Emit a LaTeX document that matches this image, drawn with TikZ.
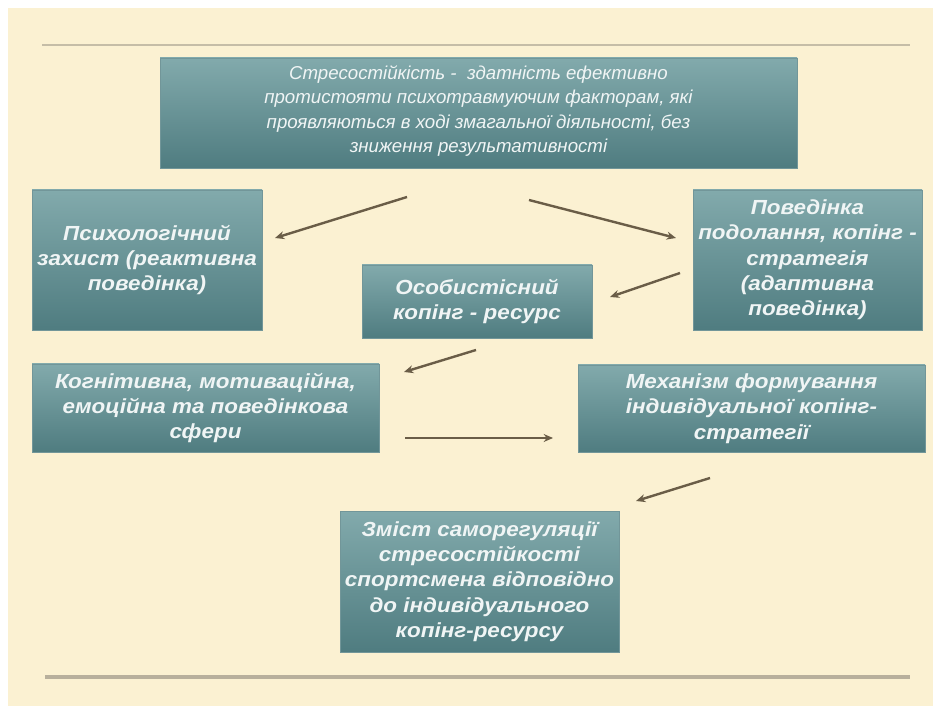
\documentclass[tikz,border=0pt]{standalone}
\usepackage{fontspec}
\setmainfont{Liberation Sans}
\newfontfamily\widefont[FakeStretch=1.1]{Liberation Sans}
\usetikzlibrary{arrows.meta}
\definecolor{cream}{HTML}{FBF1D2}
\definecolor{boxtop}{HTML}{82AAAC}
\definecolor{boxbot}{HTML}{4F7C80}
\definecolor{arrowc}{HTML}{6A5D47}
\definecolor{txt}{HTML}{F0F5F5}
\definecolor{rulec}{HTML}{B8B09C}
\tikzset{
  box/.style={rectangle, top color=boxtop, bottom color=boxbot, draw=boxbot!80!white, line width=0.3pt,
    text=txt, align=center, inner sep=1pt,
    font=\widefont\fontsize{15.3}{19}\selectfont\bfseries\itshape},
  topbox/.style={box, font=\fontsize{14}{18.4}\selectfont\itshape},
  arr/.style={draw=arrowc, line width=1.8pt, -{Stealth[length=7pt,width=6pt]}},
}
\begin{document}
\begin{tikzpicture}[x=0.75pt,y=-0.75pt]
\useasboundingbox (0,0) rectangle (933,706);
\fill[white] (0,0) rectangle (933,706);
\fill[cream] (8,8) rectangle (933,706);
\draw[rulec!80!cream, line width=1pt] (42,45) -- (910,45);
\draw[rulec, line width=3.5pt] (45,677) -- (910,677);

\node[topbox, minimum width=637*0.75pt, minimum height=110*0.75pt, text depth=6pt] (a) at (478.5,113)
  {Стресостійкість -\ \ здатність ефективно\\протистояти психотравмуючим факторам, які\\проявляються в ході змагальної діяльності, без\\зниження результативності};
\node[box, minimum width=230*0.75pt, minimum height=140*0.75pt] (b) at (147,260)
  {Психологічний\\захист (реактивна\\поведінка)};
\node[box, minimum width=229*0.75pt, minimum height=140*0.75pt] (c) at (807.5,260)
  {Поведінка\\подолання, копінг -\\стратегія\\(адаптивна\\поведінка)};
\node[box, minimum width=230*0.75pt, minimum height=73*0.75pt] (d) at (477,301.5)
  {Особистісний\\копінг - ресурс};
\node[box, minimum width=347*0.75pt, minimum height=88*0.75pt] (e) at (205.5,408)
  {Когнітивна, мотиваційна,\\емоційна та поведінкова\\сфери};
\node[box, minimum width=347*0.75pt, minimum height=87*0.75pt] (f) at (751.5,408.5)
  {Механізм формування\\індивідуальної копінг-\\стратегії};
\node[box, minimum width=279*0.75pt, minimum height=141*0.75pt] (g) at (479.5,581.5)
  {Зміст саморегуляції\\стресостійкості\\спортсмена відповідно\\до індивідуального\\копінг-ресурсу};

\coordinate (s1) at (407,197); \coordinate (t1) at (275,238);
\coordinate (s2) at (529,200); \coordinate (t2) at (676,238);
\coordinate (s3) at (680,273); \coordinate (t3) at (610,297);
\coordinate (s4) at (476,350); \coordinate (t4) at (404,372);
\coordinate (s5) at (405,438); \coordinate (t5) at (553,438);
\coordinate (s6) at (710,478); \coordinate (t6) at (636,501);
\foreach \i in {1,...,6} \draw[arr] (s\i) -- (t\i);
\end{tikzpicture}
\end{document}
